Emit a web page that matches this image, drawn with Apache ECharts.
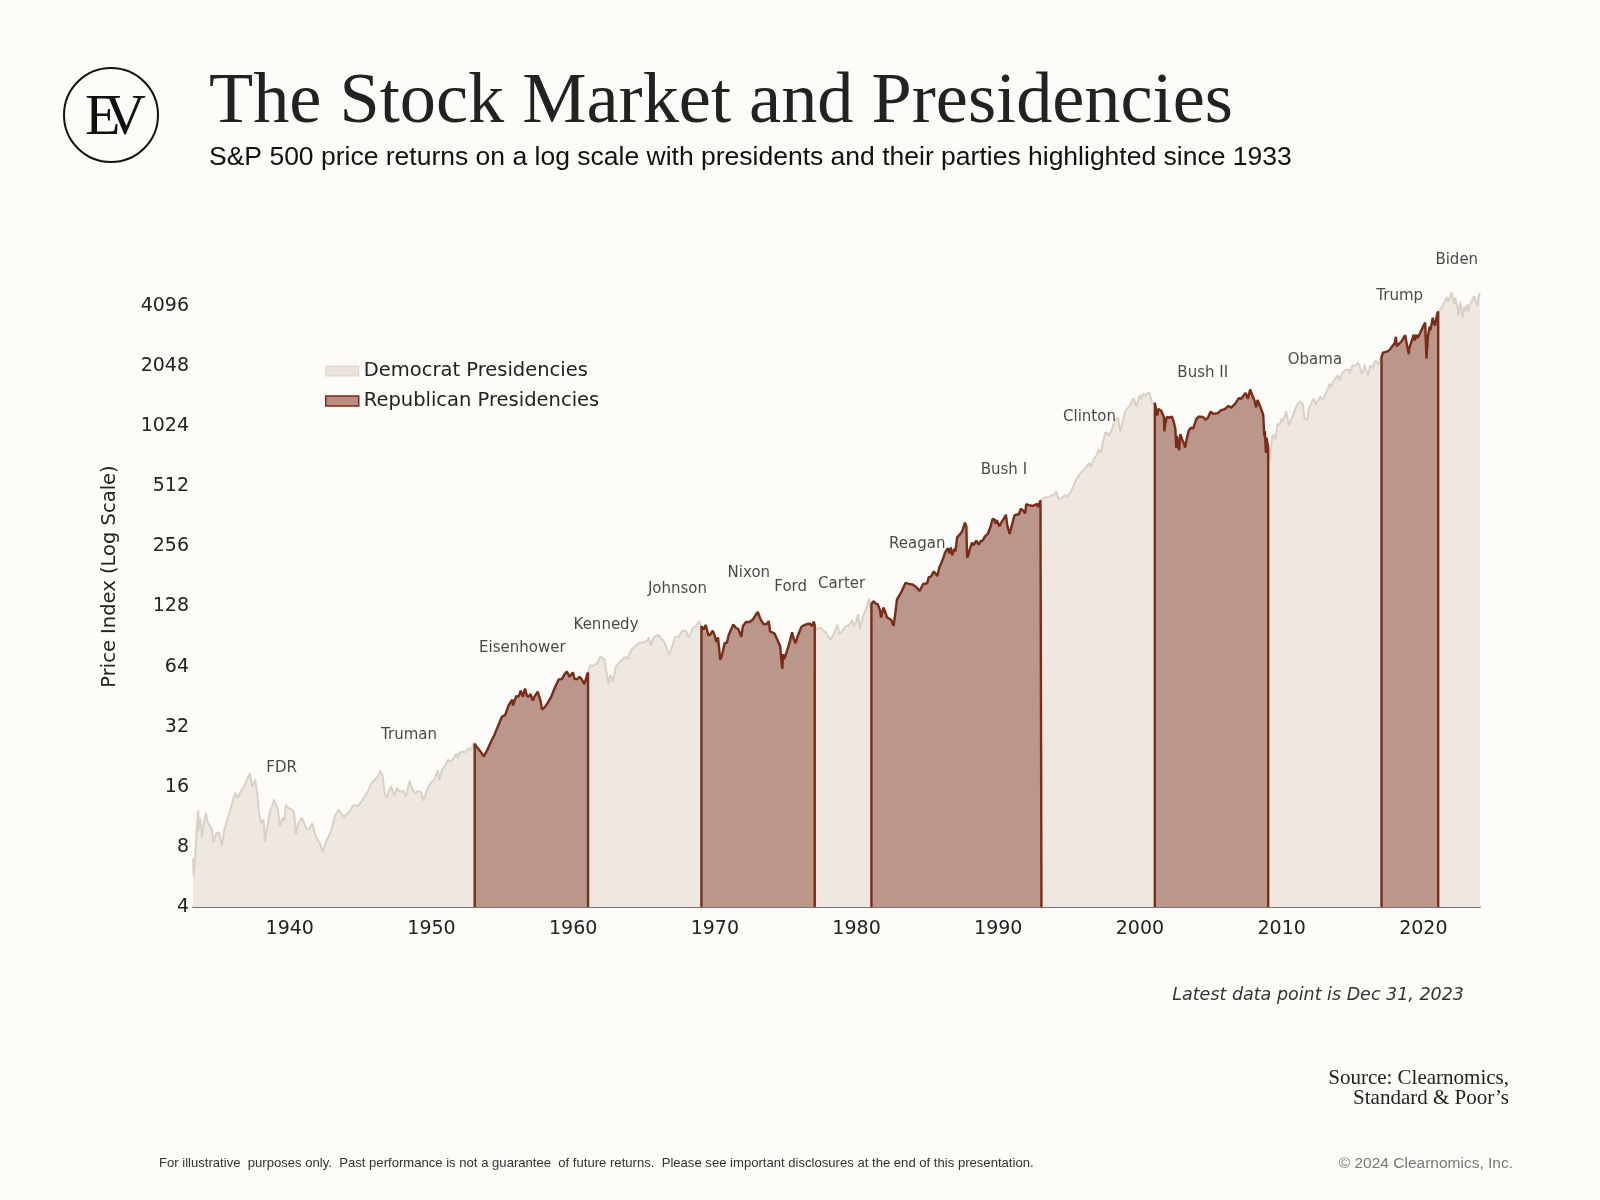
<!DOCTYPE html>
<html><head><meta charset="utf-8">
<script src="https://cdn.jsdelivr.net/npm/echarts@6/dist/echarts.min.js"></script>
<style>html,body{margin:0;padding:0;background:#fcfbf8;}#c{width:1600px;height:1200px;}</style>
</head><body><div id="c"></div>
<script>
// ---- tick labels ----
const yTicks = [4, 8, 16, 32, 64, 128, 256, 512, 1024, 2048, 4096];
const xTicks = [1940, 1950, 1960, 1970, 1980, 1990, 2000, 2010, 2020];
const partyNames = ['Democrat Presidencies', 'Republican Presidencies'];

// ---- S&P 500 price index, [decimal year, level], by term ----
const fdr = [[1933.17,7.0],[1933.22,5.7],[1933.28,6.4],[1933.34,7.6],[1933.40,9.0],[1933.46,10.6],[1933.54,12.2],[1933.57,9.6],[1933.63,11.2],[1933.72,10.6],[1933.80,8.9],[1933.90,10.2],[1933.98,10.1],[1934.08,11.8],[1934.20,10.7],[1934.33,10.3],[1934.50,9.8],[1934.62,8.4],[1934.80,9.3],[1935.00,9.5],[1935.20,8.1],[1935.38,9.8],[1935.55,10.7],[1935.75,11.9],[1935.95,13.4],[1936.15,14.9],[1936.35,14.0],[1936.55,15.3],[1936.75,16.0],[1936.95,17.2],[1937.18,18.7],[1937.35,16.0],[1937.55,17.4],[1937.70,15.0],[1937.82,11.8],[1937.98,10.5],[1938.15,11.0],[1938.25,8.5],[1938.45,10.5],[1938.62,12.2],[1938.75,12.8],[1938.88,13.8],[1939.00,13.2],[1939.15,12.5],[1939.30,10.2],[1939.50,11.2],[1939.62,10.8],[1939.72,13.0],[1939.90,12.5],[1940.10,12.4],[1940.30,12.0],[1940.43,9.3],[1940.60,10.5],[1940.85,11.2],[1941.00,10.6],[1941.20,9.8],[1941.40,9.9],[1941.58,10.5],[1941.80,9.2],[1941.95,8.7],[1942.15,8.3],[1942.32,7.5],[1942.50,8.3],[1942.70,8.9],[1942.95,9.8],[1943.20,11.5],[1943.45,12.3],[1943.60,11.8],[1943.85,11.3],[1944.00,11.7],[1944.25,12.1],[1944.50,13.0],[1944.75,12.8],[1945.00,13.3],[1945.28,14.3]];
const truman = [[1945.28,14.3],[1945.50,15.1],[1945.75,16.6],[1946.00,17.4],[1946.20,18.0],[1946.40,19.25],[1946.55,18.2],[1946.70,14.8],[1946.85,14.1],[1947.00,15.3],[1947.15,16.1],[1947.38,14.3],[1947.55,15.8],[1947.75,15.1],[1948.00,15.3],[1948.20,14.3],[1948.45,17.1],[1948.60,15.9],[1948.85,14.8],[1949.00,15.2],[1949.25,15.1],[1949.45,13.6],[1949.70,15.6],[1949.98,16.8],[1950.20,17.3],[1950.45,19.4],[1950.55,17.3],[1950.75,19.5],[1950.98,20.4],[1951.15,21.8],[1951.40,21.5],[1951.60,22.5],[1951.75,23.4],[1951.90,22.4],[1951.98,23.8],[1952.20,24.0],[1952.40,23.9],[1952.60,25.0],[1952.80,24.5],[1952.98,26.6],[1953.05,26.3]];
const eisenhower = [[1953.05,26.3],[1953.20,25.3],[1953.45,24.1],[1953.70,22.7],[1953.98,24.8],[1954.20,26.9],[1954.45,29.2],[1954.70,32.3],[1954.98,36.0],[1955.20,36.6],[1955.45,41.0],[1955.70,43.7],[1955.75,40.8],[1955.98,45.5],[1956.15,45.3],[1956.30,48.5],[1956.45,45.2],[1956.60,49.7],[1956.75,45.4],[1956.90,45.5],[1956.98,46.7],[1957.15,43.3],[1957.30,45.7],[1957.50,47.9],[1957.70,43.0],[1957.80,39.0],[1957.98,40.0],[1958.20,42.1],[1958.45,45.2],[1958.70,50.1],[1958.98,55.2],[1959.20,55.4],[1959.40,58.7],[1959.55,60.5],[1959.75,56.9],[1959.98,59.9],[1960.10,55.6],[1960.25,55.3],[1960.45,56.9],[1960.58,55.5],[1960.80,52.3],[1960.98,58.1],[1961.05,59.8]];
const kennedy = [[1961.05,59.8],[1961.20,65.1],[1961.45,64.6],[1961.70,66.7],[1961.90,71.8],[1961.98,71.6],[1962.20,69.6],[1962.35,60.0],[1962.48,52.3],[1962.60,58.0],[1962.75,56.3],[1962.81,53.5],[1962.98,63.1],[1963.20,66.6],[1963.45,69.4],[1963.70,71.7],[1963.89,69.6]];
const johnson = [[1963.89,69.6],[1963.98,75.0],[1964.20,79.0],[1964.45,81.7],[1964.70,84.2],[1964.98,84.8],[1965.20,86.2],[1965.35,89.5],[1965.48,81.6],[1965.70,90.0],[1965.98,92.4],[1966.10,94.0],[1966.20,89.2],[1966.45,84.7],[1966.65,77.1],[1966.77,73.2],[1966.98,80.3],[1967.20,90.2],[1967.45,90.6],[1967.70,96.7],[1967.98,96.5],[1968.15,89.1],[1968.22,87.7],[1968.45,99.6],[1968.70,102.7],[1968.90,108.4],[1968.98,103.9],[1969.05,102.0]];
const nixon = [[1969.05,102.0],[1969.20,98.1],[1969.35,103.5],[1969.55,91.8],[1969.70,93.1],[1969.85,97.0],[1969.98,92.1],[1970.10,85.0],[1970.22,89.6],[1970.38,69.3],[1970.50,72.7],[1970.70,84.2],[1970.85,84.3],[1970.98,92.2],[1971.20,100.3],[1971.30,104.0],[1971.50,99.7],[1971.65,99.0],[1971.87,90.2],[1971.98,102.1],[1972.20,107.2],[1972.45,107.1],[1972.70,110.6],[1972.90,116.7],[1973.03,120.2],[1973.20,111.5],[1973.45,104.3],[1973.65,104.3],[1973.80,108.3],[1973.90,96.0],[1973.98,97.6],[1974.20,94.0],[1974.45,86.0],[1974.61,80.9]];
const ford = [[1974.61,80.9],[1974.70,68.0],[1974.76,62.3],[1974.82,73.9],[1974.90,69.9],[1974.98,68.6],[1975.10,76.9],[1975.25,83.4],[1975.45,95.2],[1975.55,88.8],[1975.70,83.9],[1975.85,91.2],[1975.98,90.2],[1976.10,100.9],[1976.25,102.8],[1976.45,104.3],[1976.70,105.2],[1976.85,102.1],[1976.98,107.5],[1977.05,103.3]];
const carter = [[1977.05,103.3],[1977.20,98.4],[1977.45,100.5],[1977.70,96.5],[1977.85,94.8],[1977.98,95.1],[1978.15,87.0],[1978.20,86.9],[1978.45,95.5],[1978.65,103.9],[1978.80,93.2],[1978.98,96.1],[1979.20,101.6],[1979.45,102.9],[1979.70,109.3],[1979.80,101.8],[1979.98,107.9],[1980.12,117.0],[1980.22,98.2],[1980.45,114.2],[1980.70,125.5],[1980.88,140.5],[1980.95,127.0],[1980.98,135.8],[1981.05,131.6]];
const reagan = [[1981.05,131.6],[1981.20,136.0],[1981.35,132.6],[1981.50,131.2],[1981.65,122.8],[1981.73,112.8],[1981.90,126.4],[1981.98,122.6],[1982.15,113.1],[1982.25,112.0],[1982.45,109.6],[1982.61,102.4],[1982.75,120.4],[1982.85,138.5],[1982.98,140.6],[1983.20,153.0],[1983.45,168.1],[1983.70,166.1],[1983.98,164.9],[1984.10,163.4],[1984.25,159.2],[1984.45,153.2],[1984.55,150.7],[1984.70,166.1],[1984.98,167.2],[1985.10,179.6],[1985.25,180.7],[1985.45,191.9],[1985.70,182.1],[1985.85,202.2],[1985.98,211.3],[1986.15,226.9],[1986.25,238.9],[1986.45,250.8],[1986.55,236.1],[1986.65,252.9],[1986.75,231.3],[1986.90,249.2],[1986.98,242.2],[1987.10,284.2],[1987.25,291.7],[1987.45,304.0],[1987.65,336.8],[1987.75,321.8],[1987.80,224.8],[1987.88,230.3],[1987.98,247.1],[1988.15,267.8],[1988.25,258.9],[1988.45,273.5],[1988.62,261.5],[1988.75,271.9],[1988.90,273.7],[1988.98,277.7],[1989.05,286.6]];
const bush1 = [[1989.05,286.6],[1989.25,294.9],[1989.45,320.5],[1989.60,351.5],[1989.75,349.2],[1989.80,333.6],[1989.90,346.0],[1989.98,353.4],[1990.08,323.0],[1990.25,339.9],[1990.45,358.0],[1990.54,368.9],[1990.65,322.6],[1990.75,306.1],[1990.80,295.5],[1990.98,330.2],[1991.15,367.1],[1991.25,375.2],[1991.45,371.2],[1991.60,395.4],[1991.75,387.9],[1991.90,375.2],[1991.98,417.1],[1992.15,412.7],[1992.25,403.7],[1992.45,408.1],[1992.60,414.0],[1992.75,417.8],[1992.80,403.0],[1992.98,435.7],[1993.05,435.5]];
const clinton = [[1993.05,435.5],[1993.25,451.7],[1993.45,450.5],[1993.70,458.9],[1993.98,466.5],[1994.08,481.6],[1994.25,445.8],[1994.45,444.3],[1994.70,462.7],[1994.90,453.7],[1994.98,459.3],[1995.25,500.7],[1995.45,544.8],[1995.70,584.4],[1995.98,615.9],[1996.25,645.5],[1996.45,670.6],[1996.55,640.0],[1996.70,687.3],[1996.98,740.7],[1997.10,786.2],[1997.25,757.1],[1997.45,885.1],[1997.55,954.3],[1997.70,947.3],[1997.80,914.6],[1997.98,970.4],[1998.25,1101.8],[1998.45,1133.8],[1998.62,957.3],[1998.70,1017.0],[1998.98,1229.2],[1999.25,1286.4],[1999.45,1372.7],[1999.55,1418.8],[1999.75,1282.7],[1999.98,1469.3],[2000.08,1394.5],[2000.25,1498.6],[2000.33,1452.4],[2000.45,1454.6],[2000.65,1517.7],[2000.75,1436.5],[2000.90,1315.2],[2000.98,1320.3],[2001.05,1342.5]];
const bush2 = [[2001.05,1342.5],[2001.08,1366.0],[2001.15,1239.9],[2001.22,1160.3],[2001.30,1249.5],[2001.40,1255.8],[2001.50,1224.4],[2001.60,1211.2],[2001.70,1133.6],[2001.72,965.8],[2001.80,1059.8],[2001.90,1139.5],[2001.98,1148.1],[2002.10,1130.2],[2002.25,1147.4],[2002.40,1067.1],[2002.50,989.8],[2002.56,797.7],[2002.62,916.1],[2002.70,815.3],[2002.77,776.8],[2002.85,936.3],[2002.98,879.8],[2003.10,841.2],[2003.19,800.7],[2003.35,916.9],[2003.45,974.5],[2003.60,1008.0],[2003.75,996.0],[2003.98,1111.9],[2004.15,1144.9],[2004.25,1126.2],[2004.45,1140.8],[2004.62,1104.2],[2004.80,1130.2],[2004.98,1211.9],[2005.20,1180.6],[2005.30,1156.9],[2005.50,1191.3],[2005.70,1228.8],[2005.80,1207.0],[2005.98,1248.3],[2006.25,1294.9],[2006.45,1270.2],[2006.55,1245.0],[2006.75,1335.9],[2006.98,1418.3],[2007.15,1406.8],[2007.25,1420.9],[2007.45,1503.4],[2007.55,1455.3],[2007.62,1406.7],[2007.78,1565.2],[2007.90,1481.1],[2007.98,1468.4],[2008.08,1378.6],[2008.20,1273.4],[2008.30,1385.6],[2008.38,1400.4],[2008.50,1280.0],[2008.60,1267.4],[2008.70,1166.4],[2008.78,909.9],[2008.82,968.8],[2008.89,752.4],[2008.93,896.2],[2008.98,903.3],[2009.05,805.2]];
const obama = [[2009.05,805.2],[2009.12,735.1],[2009.18,690.0],[2009.25,797.9],[2009.35,919.1],[2009.50,919.3],[2009.55,879.1],[2009.70,1057.1],[2009.85,1036.2],[2009.98,1115.1],[2010.08,1073.9],[2010.25,1169.4],[2010.32,1217.3],[2010.45,1089.4],[2010.50,1030.7],[2010.62,1049.3],[2010.75,1141.2],[2010.98,1257.6],[2011.15,1327.2],[2011.25,1325.8],[2011.33,1363.6],[2011.50,1320.6],[2011.62,1119.5],[2011.75,1131.4],[2011.82,1099.2],[2011.90,1247.0],[2011.98,1257.6],[2012.25,1408.5],[2012.42,1310.3],[2012.50,1362.2],[2012.75,1440.7],[2012.88,1379.9],[2012.98,1426.2],[2013.25,1569.2],[2013.38,1669.2],[2013.50,1606.3],[2013.62,1709.7],[2013.75,1681.6],[2013.98,1848.4],[2014.10,1741.9],[2014.25,1872.3],[2014.50,1960.2],[2014.62,2003.4],[2014.75,1972.3],[2014.80,1862.5],[2014.98,2058.9],[2015.25,2067.9],[2015.38,2130.8],[2015.50,2063.1],[2015.65,1867.6],[2015.75,1920.0],[2015.85,2079.4],[2015.98,2043.9],[2016.10,1829.1],[2016.25,2059.7],[2016.45,2000.5],[2016.50,2098.9],[2016.62,2190.2],[2016.75,2168.3],[2016.85,2085.2],[2016.98,2238.8],[2017.05,2271.3]];
const trump = [[2017.05,2271.3],[2017.15,2395.9],[2017.25,2362.7],[2017.45,2423.4],[2017.62,2471.7],[2017.75,2519.4],[2017.98,2673.6],[2018.07,2872.9],[2018.11,2581.0],[2018.25,2640.9],[2018.45,2718.4],[2018.72,2930.8],[2018.80,2711.7],[2018.90,2760.2],[2018.98,2351.1],[2019.00,2506.9],[2019.25,2834.4],[2019.32,2945.8],[2019.40,2752.1],[2019.50,2941.8],[2019.60,2840.6],[2019.75,2976.7],[2019.98,3230.8],[2020.13,3386.2],[2020.22,2237.4],[2020.33,2912.4],[2020.45,3232.4],[2020.50,3100.3],[2020.67,3580.8],[2020.75,3363.0],[2020.83,3270.0],[2020.98,3756.1],[2021.05,3851.9]];
const biden = [[2021.05,3851.9],[2021.15,3811.2],[2021.25,3972.9],[2021.50,4297.5],[2021.67,4537.0],[2021.75,4307.5],[2021.90,4605.4],[2022.00,4796.6],[2022.12,4348.9],[2022.20,4170.7],[2022.25,4530.4],[2022.45,3900.9],[2022.46,3666.8],[2022.62,4305.2],[2022.77,3577.0],[2022.90,4080.1],[2022.98,3839.5],[2023.10,4179.8],[2023.20,3855.8],[2023.25,4109.3],[2023.50,4450.4],[2023.58,4589.0],[2023.82,4117.4],[2023.90,4567.8],[2024.00,4769.8]];

// president names and where their labels sit (decimal year, index level)
const presidentNames = ['FDR','Truman','Eisenhower','Kennedy','Johnson','Nixon','Ford','Carter','Reagan','Bush I','Clinton','Bush II','Obama','Trump','Biden'];
const labelYears = [1939.42,1948.42,1956.41,1962.32,1967.36,1972.40,1975.35,1978.95,1984.28,1990.40,1996.44,2004.43,2012.35,2018.33,2022.36];
const labelLevels = [19.8,28.9,78.8,103.5,156,188,160,166,262,620,1144,1899,2190,4600,6940];

// ---- build ----
const allTerms = [fdr, truman, eisenhower, kennedy, johnson, nixon, ford, carter, reagan, bush1, clinton, bush2, obama, trump, biden];
const fullHistory = [].concat(...allTerms);
const repBlocks = [eisenhower, nixon.concat(ford), reagan.concat(bush1), bush2, trump];
const Y_MIN = 4, Y_MAX = 8192;

const C_DEM_FILL = '#eee8e1', C_DEM_LINE = '#dad1c6';
const C_REP_FILL = '#bb978b', C_REP_LINE = '#7a2c19';
const SANS = '"DejaVu Sans", sans-serif';

const series = [{
  name: partyNames[0], type: 'line', data: fullHistory, showSymbol: false, z: 1,
  lineStyle: { color: C_DEM_LINE, width: 2 }, itemStyle: { color: C_DEM_FILL },
  areaStyle: { color: C_DEM_FILL, opacity: 1, origin: 'start' }, silent: true
}];
repBlocks.forEach(b => {
  const d = [[b[0][0], Y_MIN]].concat(b, [[b[b.length - 1][0], Y_MIN]]);
  series.push({
    name: partyNames[1], type: 'line', data: d, showSymbol: false, z: 2,
    lineStyle: { color: C_REP_LINE, width: 2.4 }, itemStyle: { color: C_REP_FILL },
    areaStyle: { color: C_REP_FILL, opacity: 1, origin: 'start' }, silent: true
  });
});
series.push({
  type: 'scatter', z: 5, silent: true, symbolSize: 1,
  itemStyle: { color: 'rgba(0,0,0,0)' },
  data: presidentNames.map((n, i) => ({ value: [labelYears[i], labelLevels[i]], name: n })),
  label: { show: true, position: 'inside', formatter: p => p.name, color: '#1a1a1a', fontFamily: SANS, fontSize: 15 }
});

const chart = echarts.init(document.getElementById('c'), null, { renderer: 'canvas' });
chart.setOption({
  backgroundColor: '#fcfbf8',
  animation: false,
  grid: { left: 193, right: 120, top: 246, bottom: 293, containLabel: false },
  xAxis: {
    type: 'value', min: 1933.17, max: 2024,
    axisLine: { show: true, lineStyle: { color: '#4a4a4a', width: 1.5 } },
    axisTick: { show: false }, splitLine: { show: false },
    axisLabel: { customValues: xTicks, color: '#222', fontFamily: SANS, fontSize: 19, margin: 13, formatter: v => String(v) }
  },
  yAxis: {
    type: 'log', logBase: 2, min: Y_MIN, max: Y_MAX,
    name: 'Price Index (Log Scale)', nameLocation: 'middle', nameGap: 73, nameRotate: 90,
    nameTextStyle: { color: '#222', fontFamily: SANS, fontSize: 19.5 },
    axisLine: { show: false }, axisTick: { show: false }, splitLine: { show: false },
    axisLabel: { customValues: yTicks, color: '#222', fontFamily: SANS, fontSize: 19, margin: 4, formatter: v => String(Math.round(v)) }
  },
  legend: {
    orient: 'vertical', left: 320, top: 356, itemGap: 10, itemWidth: 33, itemHeight: 10,
    textStyle: { color: '#222', fontFamily: SANS, fontSize: 19.5, padding: [0, 0, 0, 0] },
    data: [
      { name: partyNames[0], icon: 'rect', itemStyle: { color: '#ebe4dc', borderColor: '#dcd3c8', borderWidth: 1 } },
      { name: partyNames[1], icon: 'rect', itemStyle: { color: '#b98c7f', borderColor: C_REP_LINE, borderWidth: 1.5 } }
    ],
    selectedMode: false
  },
  graphic: [
    { type: 'circle', shape: { cx: 111, cy: 115, r: 47 }, style: { fill: 'none', stroke: '#111', lineWidth: 2 } },
    { type: 'text', x: 85, y: 119, style: { text: 'E', font: '58px "Liberation Serif"', fill: '#111', align: 'left', verticalAlign: 'middle' } },
    { type: 'text', x: 104, y: 119, style: { text: 'V', font: '58px "Liberation Serif"', fill: '#111', align: 'left', verticalAlign: 'middle' } },
    { type: 'text', x: 209, y: 103, style: { text: 'The Stock Market and Presidencies', font: '72.3px "Liberation Serif"', fill: '#222', align: 'left', verticalAlign: 'middle' } },
    { type: 'text', x: 209, y: 158, style: { text: 'S&P 500 price returns on a log scale with presidents and their parties highlighted since 1933', font: '26.5px "Liberation Sans"', fill: '#111', align: 'left', verticalAlign: 'middle' } },
    { type: 'text', x: 1464, y: 995, style: { text: 'Latest data point is Dec 31, 2023', font: 'italic 17.5px "DejaVu Sans"', fill: '#333', align: 'right', verticalAlign: 'middle' } },
    { type: 'text', x: 1509, y: 1078, style: { text: 'Source: Clearnomics,', font: '21px "Liberation Serif"', fill: '#222', align: 'right', verticalAlign: 'middle' } },
    { type: 'text', x: 1509, y: 1098, style: { text: 'Standard & Poor\u2019s', font: '21px "Liberation Serif"', fill: '#222', align: 'right', verticalAlign: 'middle' } },
    { type: 'text', x: 159, y: 1163, style: { text: 'For illustrative  purposes only.  Past performance is not a guarantee  of future returns.  Please see important disclosures at the end of this presentation.', font: '13.1px "Liberation Sans"', fill: '#333', align: 'left', verticalAlign: 'middle' } },
    { type: 'text', x: 1513, y: 1164, style: { text: '\u00a9 2024 Clearnomics, Inc.', font: '15.5px "Liberation Sans"', fill: '#777', align: 'right', verticalAlign: 'middle' } }
  ],
  series: series
});
</script></body></html>
